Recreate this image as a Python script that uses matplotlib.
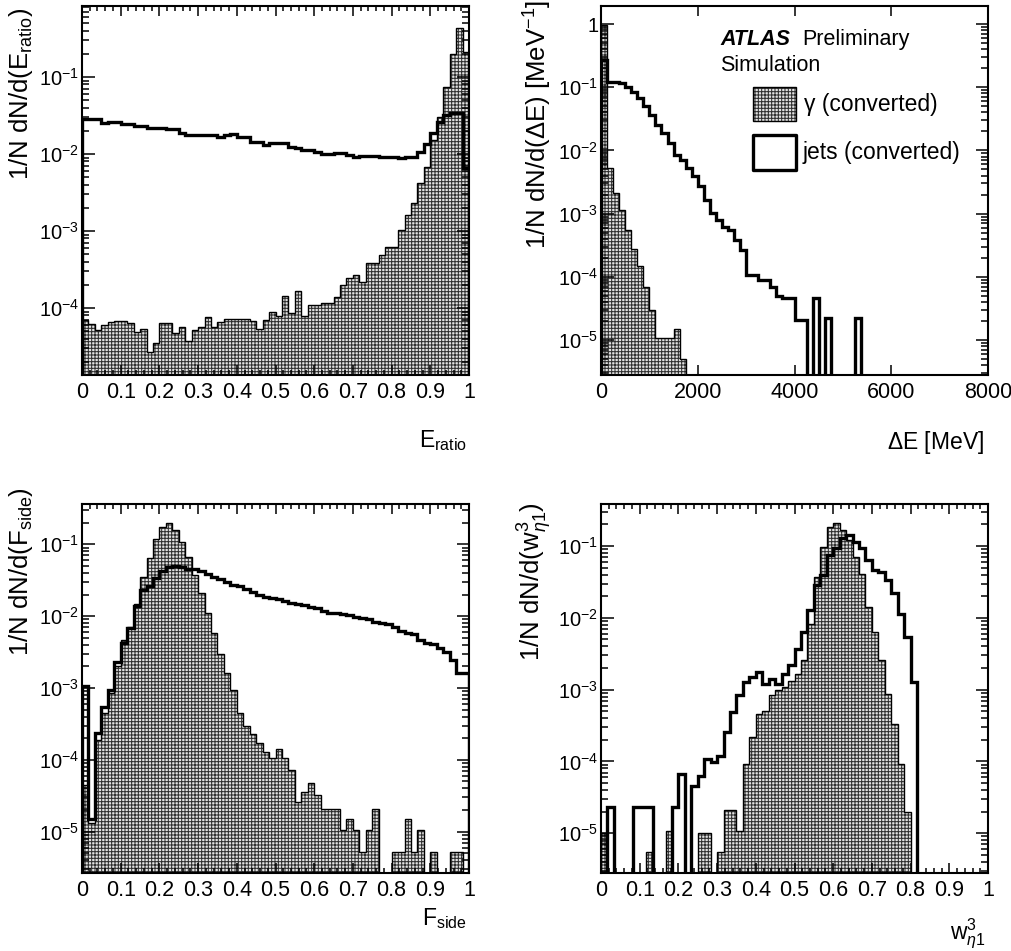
# Four ATLAS shower-shape histograms (converted photons vs jets), ROOT-ish style
import numpy as np
import matplotlib
matplotlib.use("Agg")
import matplotlib.pyplot as plt
from matplotlib.ticker import LogLocator, FuncFormatter, NullFormatter, MultipleLocator
from matplotlib.patches import Rectangle

plt.rcParams['font.family'] = ['Liberation Sans', 'DejaVu Sans']
plt.rcParams['mathtext.fontset'] = 'custom'
plt.rcParams['mathtext.rm'] = 'Liberation Sans'
plt.rcParams['mathtext.it'] = 'Liberation Sans:italic'
plt.rcParams['mathtext.bf'] = 'Liberation Sans:bold'
plt.rcParams['hatch.linewidth'] = 0.75

# ---- data (1/N dN/dx per bin) ----
eratio_edges = np.linspace(0, 1, 61)
eratio_gamma = [6.9e-5, 6.2e-5, 5.2e-5, 6.0e-5, 6.6e-5, 6.8e-5, 6.8e-5, 6.3e-5, 4.9e-5, 5.3e-5,
                2.7e-5, 3.5e-5, 6.4e-5, 6.4e-5, 4.8e-5, 5.6e-5, 3.7e-5, 5.2e-5, 5.7e-5, 7.7e-5,
                5.7e-5, 6.6e-5, 7.1e-5, 7.1e-5, 7.1e-5, 7.1e-5, 6.8e-5, 5.3e-5, 7.0e-5, 8.9e-5,
                7.8e-5, 1.45e-4, 8.5e-5, 1.65e-4, 7.8e-5, 1.1e-4, 1.1e-4, 1.15e-4, 1.15e-4, 1.4e-4,
                2.0e-4, 2.45e-4, 2.7e-4, 2.2e-4, 3.8e-4, 3.8e-4, 4.9e-4, 6.2e-4, 6.2e-4, 1.04e-3,
                1.6e-3, 2.3e-3, 4.2e-3, 6.7e-3, 1.5e-2, 3.0e-2, 7.4e-2, 0.2, 0.43, 0.21]
eratio_jets = [0.0282, 0.0282, 0.0282, 0.0250, 0.0263, 0.0263, 0.0245, 0.0245, 0.0231, 0.0231,
               0.0218, 0.0218, 0.0218, 0.0210, 0.0210, 0.0189, 0.0177, 0.0177, 0.0177, 0.0177,
               0.0177, 0.0168, 0.0175, 0.0180, 0.0165, 0.0165, 0.0145, 0.0145, 0.0131, 0.0138,
               0.0138, 0.0138, 0.0125, 0.0119, 0.0113, 0.0113, 0.0107, 0.0100, 0.0100, 0.0104,
               0.0104, 0.0097, 0.0091, 0.0095, 0.0095, 0.0095, 0.0092, 0.0092, 0.0092, 0.0088,
               0.0092, 0.0092, 0.0105, 0.0135, 0.019, 0.026, 0.032, 0.034, 0.034, 0.0065]

de_edges = np.linspace(0, 8000, 65)
de_gamma = [0.95, 5.2e-3, 2.1e-3, 1.14e-3, 5.5e-4, 2.8e-4, 1.5e-4, 7.0e-5, 3.0e-5, 1.07e-5,
            1.07e-5, 1.07e-5, 1.5e-5, 5.1e-6] + [0] * 50
de_jets = [0.27, 0.123, 0.123, 0.116, 0.1, 0.085, 0.067, 0.0506, 0.0365, 0.0253,
           0.0187, 0.013, 0.0085, 0.0071, 0.0052, 0.0039, 0.0027, 0.00165, 0.00102, 7.9e-4,
           6.2e-4, 5.5e-4, 3.8e-4, 2.7e-4, 1.07e-4, 1.07e-4, 8.9e-5, 8.9e-5, 7.0e-5, 4.9e-5,
           4.6e-5, 4.6e-5, 2.1e-5, 2.1e-5, 0, 4.6e-5, 0, 2.2e-5, 0, 0,
           0, 0, 2.2e-5] + [0] * 21

fside_edges = np.linspace(0, 1, 61)
fside_gamma = [4.5e-5, 1.3e-5, 1.9e-4, 4.5e-4, 8.5e-4, 2.0e-3, 4.7e-3, 7.1e-3, 1.5e-2, 3.5e-2,
               0.064, 0.12, 0.176, 0.195, 0.158, 0.109, 0.067, 0.037, 0.021, 0.011,
               5.8e-3, 3.0e-3, 1.6e-3, 9.3e-4, 4.5e-4, 3.0e-4, 2.3e-4, 1.7e-4, 1.3e-4, 1.05e-4,
               1.4e-4, 1.05e-4, 7.2e-5, 2.6e-5, 3.6e-5, 4.7e-5, 3.2e-5, 2.1e-5, 2.1e-5, 2.1e-5,
               1.05e-5, 1.5e-5, 1.05e-5, 5.2e-6, 1.05e-5, 2.1e-5, 0, 0, 5.2e-6, 5.2e-6,
               1.5e-5, 5.2e-6, 1.05e-5, 0, 5.2e-6, 0, 0, 5.2e-6, 5.2e-6, 0]
fside_jets = [1.05e-3, 1.5e-5, 2.35e-4, 5.5e-4, 9.3e-4, 2.3e-3, 4.2e-3, 6.8e-3, 1.4e-2, 2.3e-2,
              2.6e-2, 3.4e-2, 4.2e-2, 4.8e-2, 5.0e-2, 4.8e-2, 4.6e-2, 4.5e-2, 4.3e-2, 3.9e-2,
              3.5e-2, 3.3e-2, 3.0e-2, 2.7e-2, 2.6e-2, 2.4e-2, 2.2e-2, 1.97e-2, 1.87e-2, 1.77e-2,
              1.71e-2, 1.64e-2, 1.54e-2, 1.48e-2, 1.43e-2, 1.36e-2, 1.29e-2, 1.19e-2, 1.12e-2, 1.10e-2,
              1.07e-2, 1.04e-2, 9.8e-3, 9.3e-3, 9.0e-3, 8.4e-3, 8.1e-3, 7.8e-3, 7.1e-3, 6.3e-3,
              5.8e-3, 5.7e-3, 4.6e-3, 4.2e-3, 4.1e-3, 3.6e-3, 3.2e-3, 2.45e-3, 1.6e-3, 1.6e-3]

weta_edges = np.linspace(0, 1, 61)
weta_gamma = [1.0e-5, 0, 0, 0, 0, 0, 0, 5.4e-6, 0, 0,
              1.07e-5, 0, 0, 0, 0, 1.0e-5, 1.0e-5, 0, 5.4e-6, 2.1e-5,
              2.1e-5, 1.07e-5, 9.2e-5, 2.2e-4, 4.6e-4, 5.1e-4, 8.3e-4, 9.8e-4, 1.08e-3, 1.34e-3,
              1.66e-3, 2.6e-3, 8.3e-3, 3.7e-2, 9.8e-2, 0.186, 0.21, 0.167, 0.121, 0.071,
              0.041, 0.014, 6.3e-3, 2.6e-3, 8.7e-4, 3.3e-4, 9.2e-5, 2.0e-5] + [0] * 12
weta_jets = [0, 2.3e-5, 0, 0, 0, 2.3e-5, 2.3e-5, 2.3e-5, 0, 0,
             0, 2.3e-5, 6.6e-5, 0, 4.6e-5, 6.3e-5, 1.07e-4, 9.7e-5, 1.2e-4, 2.6e-4,
             4.9e-4, 8.3e-4, 1.27e-3, 1.5e-3, 1.76e-3, 1.2e-3, 1.4e-3, 1.2e-3, 1.66e-3, 2.2e-3,
             3.7e-3, 6.3e-3, 1.28e-2, 2.85e-2, 3.9e-2, 7.5e-2, 9.3e-2, 0.128, 0.143, 0.115,
             9.3e-2, 6.4e-2, 4.6e-2, 4.4e-2, 3.35e-2, 2.2e-2, 1.15e-2, 5.4e-3, 1.27e-3] + [0] * 11

TINY = 1e-12  # stands in for empty bins on the log axis
FILL = '#e2e2e2'
DOTS = '#303030'
YLAB = 18.5


def draw_hists(ax, edges, gamma, jets):
    g = np.array(gamma, dtype=float)
    j = np.array(jets, dtype=float)
    g[g <= 0] = TINY
    j[j <= 0] = TINY
    # dotted grey fill for photons, thin outline, thick outline for jets
    ax.stairs(g, edges, baseline=TINY, fill=True, facecolor=FILL,
              edgecolor=DOTS, hatch='+++++', linewidth=0, zorder=1)
    ax.stairs(g, edges, baseline=TINY, color='black', linewidth=1.0, zorder=2)
    ax.stairs(j, edges, baseline=TINY, color='black', linewidth=2.4, zorder=3)


def log_label(v, pos):
    e = int(round(np.log10(v)))
    if e == 0:
        return '1'
    return r'$10^{%d}$' % e


def style_axes(ax, xlim, ylim, xmajor, xminor):
    ax.set_yscale('log')
    ax.set_xlim(*xlim)
    ax.set_ylim(*ylim)
    ax.xaxis.set_major_locator(MultipleLocator(xmajor))
    if xminor:
        ax.xaxis.set_minor_locator(MultipleLocator(xminor))
    ax.yaxis.set_major_locator(LogLocator(base=10, numticks=20))
    ax.yaxis.set_minor_locator(LogLocator(base=10, subs=np.arange(2, 10), numticks=20))
    ax.yaxis.set_major_formatter(FuncFormatter(log_label))
    ax.yaxis.set_minor_formatter(NullFormatter())
    ax.tick_params(which='both', direction='in', top=True, right=True, width=1.1)
    ax.tick_params(axis='x', which='major', length=7, pad=5, labelsize=15.5)
    ax.tick_params(axis='x', which='minor', length=3.5)
    ax.tick_params(axis='y', which='major', length=9, pad=2, labelsize=14.5)
    ax.tick_params(axis='y', which='minor', length=4.8)
    for sp in ax.spines.values():
        sp.set_linewidth(1.5)


def main():
    fig = plt.figure(figsize=(10.11, 9.51), dpi=100)
    W, H = 1011, 951
    left = [82, 601]
    top = [6, 504]
    wpx, hpx = 387, 369

    def make_ax(col, row):
        return fig.add_axes([left[col] / W, 1 - (top[row] + hpx) / H, wpx / W, hpx / H])

    ax1 = make_ax(0, 0)
    ax2 = make_ax(1, 0)
    ax3 = make_ax(0, 1)
    ax4 = make_ax(1, 1)

    fmt01 = FuncFormatter(lambda v, p: '0' if abs(v) < 1e-9 else ('1' if abs(v - 1) < 1e-9 else '%g' % v))

    # E_ratio
    draw_hists(ax1, eratio_edges, eratio_gamma, eratio_jets)
    style_axes(ax1, (0, 1), (1.35e-5, 0.835), 0.1, 0.02)
    ax1.xaxis.set_major_formatter(fmt01)
    ax1.set_ylabel(r'1/N dN/d(E$_{\mathrm{ratio}}$)', fontsize=YLAB, loc='top')
    ax1.yaxis.set_label_coords(-0.122, 0.995)
    ax1.set_xlabel(r'E$_{\mathrm{ratio}}$', fontsize=16.5, loc='right')
    ax1.xaxis.set_label_coords(0.995, -0.145)

    # Delta E
    draw_hists(ax2, de_edges, de_gamma, de_jets)
    style_axes(ax2, (0, 8000), (2.8e-6, 1.93), 2000, None)
    ax2.set_ylabel(r'1/N dN/d($\Delta$E) [MeV$^{-1}$]', fontsize=YLAB, loc='top')
    ax2.yaxis.set_label_coords(-0.121, 1.016)
    ax2.set_xlabel(r'$\Delta$E [MeV]', fontsize=16.5, loc='right')
    ax2.xaxis.set_label_coords(0.99, -0.145)

    # ATLAS label + legend, drawn by hand like the ROOT one
    ax2.text(0.308, 0.908, 'ATLAS', transform=ax2.transAxes, fontsize=15.5,
             fontweight='bold', style='italic', va='center', ha='left')
    ax2.text(0.521, 0.908, 'Preliminary', transform=ax2.transAxes, fontsize=15.5,
             va='center', ha='left')
    ax2.text(0.308, 0.840, 'Simulation', transform=ax2.transAxes, fontsize=15.5,
             va='center', ha='left')
    ax2.add_patch(Rectangle((0.394, 0.688), 0.111, 0.092, transform=ax2.transAxes,
                            facecolor=FILL, edgecolor=DOTS, hatch='+++++',
                            linewidth=0, zorder=4))
    ax2.add_patch(Rectangle((0.394, 0.688), 0.111, 0.092, transform=ax2.transAxes,
                            fill=False, edgecolor='black', linewidth=1.0, zorder=5))
    ax2.add_patch(Rectangle((0.394, 0.556), 0.111, 0.094, transform=ax2.transAxes,
                            fill=False, edgecolor='black', linewidth=2.4, zorder=5,
                            joinstyle='round'))
    ax2.text(0.525, 0.734, u'\u03b3 (converted)', transform=ax2.transAxes, fontsize=16.5,
             va='center', ha='left')
    ax2.text(0.522, 0.602, 'jets (converted)', transform=ax2.transAxes, fontsize=16.5,
             va='center', ha='left')

    # F_side
    draw_hists(ax3, fside_edges, fside_gamma, fside_jets)
    style_axes(ax3, (0, 1), (2.66e-6, 0.364), 0.1, 0.02)
    ax3.xaxis.set_major_formatter(fmt01)
    ax3.set_ylabel(r'1/N dN/d(F$_{\mathrm{side}}$)', fontsize=YLAB, loc='top')
    ax3.yaxis.set_label_coords(-0.122, 1.045)
    ax3.set_xlabel(r'F$_{\mathrm{side}}$', fontsize=16.5, loc='right')
    ax3.xaxis.set_label_coords(0.995, -0.09)

    # w_eta1
    draw_hists(ax4, weta_edges, weta_gamma, weta_jets)
    style_axes(ax4, (0, 1), (2.79e-6, 0.386), 0.1, 0.02)
    ax4.xaxis.set_major_formatter(fmt01)
    ax4.set_ylabel(r'1/N dN/d(w$^{3}_{\eta 1}$)', fontsize=YLAB, loc='top')
    ax4.yaxis.set_label_coords(-0.121, 1.005)
    ax4.set_xlabel(r'w$^{3}_{\eta 1}$', fontsize=16.5, loc='right')
    ax4.xaxis.set_label_coords(0.995, -0.12)

    fig.savefig('out.png', dpi=100, facecolor='white')


if __name__ == "__main__":
    main()
